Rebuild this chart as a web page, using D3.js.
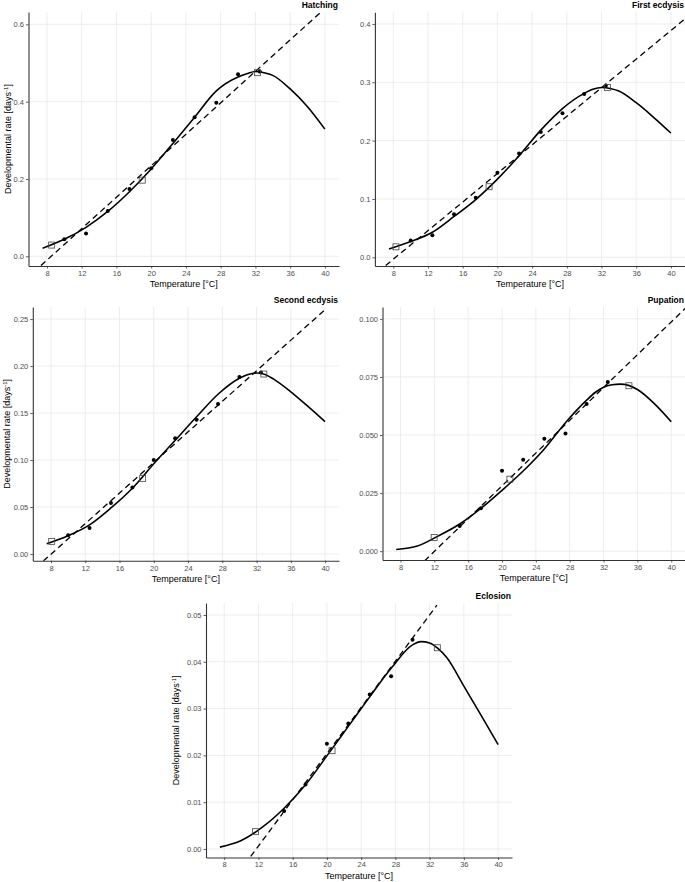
<!DOCTYPE html>
<html><head><meta charset="utf-8">
<script src="https://cdn.jsdelivr.net/npm/d3@7"></script>
<style>
body{margin:0;background:#fff}
svg{display:block}
text{font-family:"Liberation Sans",Arial,Helvetica,sans-serif}
</style>
</head><body>
<svg id="chart" width="685" height="882"></svg>
<script>
// ---------------- data ----------------
const stageNames = ["Hatching", "First ecdysis", "Second ecdysis", "Pupation", "Eclosion"];
const xTicks = [8, 12, 16, 20, 24, 28, 32, 36, 40];
const xTickLabels = ["8", "12", "16", "20", "24", "28", "32", "36", "40"];

// temperatures at which the fitted (solid) curve was read
const curveTemp = [7.5, 10, 12.5, 15, 17.5, 20, 22.5, 25, 27.5, 30, 31, 32, 33, 34, 36, 38, 40];
const hatchingCurve = [0.021, 0.044, 0.075, 0.116, 0.167, 0.226, 0.292, 0.360, 0.428, 0.464, 0.472, 0.478, 0.475, 0.468, 0.433, 0.387, 0.329];
const firstEcdysisCurve = [0.0143, 0.027, 0.043, 0.070, 0.099, 0.134, 0.174, 0.218, 0.255, 0.281, 0.288, 0.291, 0.2895, 0.285, 0.265, 0.240, 0.213];
const secondEcdysisCurve = [0.011, 0.0195, 0.031, 0.049, 0.070, 0.096, 0.121, 0.146, 0.170, 0.187, 0.191, 0.1926, 0.191, 0.186, 0.1725, 0.157, 0.1408];
const pupationCurve = [0.0007, 0.0022, 0.0066, 0.0117, 0.0184, 0.0262, 0.0345, 0.0440, 0.0553, 0.0650, 0.0683, 0.0706, 0.0716, 0.0719, 0.0696, 0.0635, 0.0557];
const eclosionCurve = [0.0004, 0.0018, 0.0047, 0.0087, 0.0137, 0.0199, 0.0262, 0.0325, 0.0386, 0.0436, 0.0443, 0.0440, 0.0428, 0.0409, 0.0348, 0.0286, 0.0223];

// observed rates (filled dots)
const obsTemp = [10, 12.5, 15, 17.5, 20, 22.5, 25, 27.5, 30, 32.5];
const hatchingObs = [0.044, 0.059, 0.117, 0.174, 0.228, 0.301, 0.360, 0.397, 0.471, 0.478];
const firstEcdysisObs = [0.0286, 0.038, 0.074, 0.102, 0.145, 0.178, 0.215, 0.247, 0.280, 0.294];
const secondEcdysisObs = [0.0200, 0.0277, 0.0544, 0.0708, 0.100, 0.1232, 0.1428, 0.1596, 0.1883, 0.193];
const pupationObsTemp = [15, 17.5, 20, 22.5, 25, 27.5, 30, 32.5];
const pupationObs = [0.0108, 0.0185, 0.0346, 0.0393, 0.0484, 0.0507, 0.0633, 0.0728];
const eclosionObsTemp = [15, 17.5, 20, 22.5, 25, 27.5, 30];
const eclosionObs = [0.0081, 0.0138, 0.0225, 0.0268, 0.0330, 0.0369, 0.0447];

// open squares
const hatchingSqTemp = [8.54, 18.97, 32.25];
const hatchingSq = [0.029, 0.197, 0.475];
const firstEcdysisSqTemp = [8.3, 19.04, 32.7];
const firstEcdysisSq = [0.018, 0.121, 0.291];
const secondEcdysisSqTemp = [8.08, 18.7, 32.85];
const secondEcdysisSq = [0.0135, 0.0805, 0.1915];
const pupationSqTemp = [11.98, 20.93, 35.0];
const pupationSq = [0.0059, 0.031, 0.0712];
const eclosionSqTemp = [11.65, 20.6, 32.9];
const eclosionSq = [0.0037, 0.021, 0.043];

// linear (dashed) model end points
const hatchingLineTemp = [7.31, 39.5];
const hatchingLine = [-0.024, 0.631];
const firstEcdysisLineTemp = [7.12, 41.65];
const firstEcdysisLine = [-0.014, 0.409];
const secondEcdysisLineTemp = [7.1, 40.16];
const secondEcdysisLine = [-0.0075, 0.2613];
const pupationLineTemp = [10.84, 41.65];
const pupationLine = [-0.0042, 0.1045];
const eclosionLineTemp = [11.1, 32.85];
const eclosionLine = [-0.0016, 0.0521];

// y ticks
const hatchingYTicks = [0, 0.2, 0.4, 0.6];
const hatchingYLabels = ["0.0", "0.2", "0.4", "0.6"];
const firstEcdysisYTicks = [0, 0.1, 0.2, 0.3, 0.4];
const firstEcdysisYLabels = ["0.0", "0.1", "0.2", "0.3", "0.4"];
const secondEcdysisYTicks = [0, 0.05, 0.10, 0.15, 0.20, 0.25];
const secondEcdysisYLabels = ["0.00", "0.05", "0.10", "0.15", "0.20", "0.25"];
const pupationYTicks = [0, 0.025, 0.05, 0.075, 0.1];
const pupationYLabels = ["0.000", "0.025", "0.050", "0.075", "0.100"];
const eclosionYTicks = [0, 0.01, 0.02, 0.03, 0.04, 0.05];
const eclosionYLabels = ["0.00", "0.01", "0.02", "0.03", "0.04", "0.05"];

// ---------------- layout ----------------
const xDomain = [5.875, 41.625];
const panels = [
  {name: stageNames[0], x0: 28.5, x1: 339, y0: 12, y1: 266, yDom: [-0.0251, 0.632], yTitle: 11,
   curve: hatchingCurve, obsT: obsTemp, obs: hatchingObs, sqT: hatchingSqTemp, sq: hatchingSq,
   lineT: hatchingLineTemp, line: hatchingLine, yTicks: hatchingYTicks, yLabels: hatchingYLabels},
  {name: stageNames[1], x0: 374.9, x1: 685, y0: 12.3, y1: 266, yDom: [-0.0149, 0.42], yTitle: null,
   curve: firstEcdysisCurve, obsT: obsTemp, obs: firstEcdysisObs, sqT: firstEcdysisSqTemp, sq: firstEcdysisSq,
   lineT: firstEcdysisLineTemp, line: firstEcdysisLine, yTicks: firstEcdysisYTicks, yLabels: firstEcdysisYLabels},
  {name: stageNames[2], x0: 32.8, x1: 339, y0: 307, y1: 560.7, yDom: [-0.0071, 0.2628], yTitle: 10,
   curve: secondEcdysisCurve, obsT: obsTemp, obs: secondEcdysisObs, sqT: secondEcdysisSqTemp, sq: secondEcdysisSq,
   lineT: secondEcdysisLineTemp, line: secondEcdysisLine, yTicks: secondEcdysisYTicks, yLabels: secondEcdysisYLabels},
  {name: stageNames[3], x0: 382.5, x1: 685, y0: 307, y1: 560, yDom: [-0.0038, 0.1051], yTitle: null,
   curve: pupationCurve, obsT: pupationObsTemp, obs: pupationObs, sqT: pupationSqTemp, sq: pupationSq,
   lineT: pupationLineTemp, line: pupationLine, yTicks: pupationYTicks, yLabels: pupationYLabels},
  {name: stageNames[4], x0: 206, x1: 512, y0: 603, y1: 857.5, yDom: [-0.00182, 0.05256], yTitle: 179,
   curve: eclosionCurve, obsT: eclosionObsTemp, obs: eclosionObs, sqT: eclosionSqTemp, sq: eclosionSq,
   lineT: eclosionLineTemp, line: eclosionLine, yTicks: eclosionYTicks, yLabels: eclosionYLabels}
];

const svg = d3.select("#chart");
svg.append("rect").attr("width", 685).attr("height", 882).attr("fill", "#fff");

panels.forEach((p, i) => {
  const g = svg.append("g");
  const x = d3.scaleLinear().domain(xDomain).range([p.x0, p.x1]);
  const y = d3.scaleLinear().domain(p.yDom).range([p.y1, p.y0]);

  // grid
  g.append("g").selectAll("line").data(xTicks).join("line")
    .attr("x1", d => x(d)).attr("x2", d => x(d)).attr("y1", p.y0).attr("y2", p.y1)
    .attr("stroke", "#ebebeb").attr("stroke-width", 0.9);
  g.append("g").selectAll("line").data(p.yTicks).join("line")
    .attr("y1", d => y(d)).attr("y2", d => y(d)).attr("x1", p.x0).attr("x2", p.x1)
    .attr("stroke", "#ebebeb").attr("stroke-width", 0.9);

  // clip
  const cid = "clip" + i;
  svg.append("clipPath").attr("id", cid).append("rect")
    .attr("x", p.x0).attr("y", p.y0).attr("width", p.x1 - p.x0).attr("height", p.y1 - p.y0);
  const plot = g.append("g").attr("clip-path", `url(#${cid})`);

  // dashed linear model
  const lineData = p.lineT.map((t, k) => [t, p.line[k]]);
  plot.append("path").datum(lineData)
    .attr("d", d3.line().x(d => x(d[0])).y(d => y(d[1])))
    .attr("fill", "none").attr("stroke", "#000").attr("stroke-width", 1.3)
    .attr("stroke-dasharray", "6,4");

  // fitted curve
  const curveData = curveTemp.map((t, k) => [t, p.curve[k]]);
  plot.append("path").datum(curveData)
    .attr("d", d3.line().x(d => x(d[0])).y(d => y(d[1])).curve(d3.curveMonotoneX))
    .attr("fill", "none").attr("stroke", "#000").attr("stroke-width", 1.6);

  // observed points
  plot.append("g").selectAll("circle").data(p.obsT.map((t, k) => [t, p.obs[k]])).join("circle")
    .attr("cx", d => x(d[0])).attr("cy", d => y(d[1])).attr("r", 2).attr("fill", "#000");

  // squares
  plot.append("g").selectAll("rect").data(p.sqT.map((t, k) => [t, p.sq[k]])).join("rect")
    .attr("x", d => x(d[0]) - 3).attr("y", d => y(d[1]) - 3).attr("width", 6).attr("height", 6)
    .attr("fill", "none").attr("stroke", "#444").attr("stroke-width", 0.8);

  // axes
  const xa = g.append("g").attr("transform", `translate(0,${p.y1})`)
    .call(d3.axisBottom(x).tickValues(xTicks).tickFormat((d, k) => xTickLabels[k]).tickSize(2.5).tickSizeOuter(0).tickPadding(2));
  const ya = g.append("g").attr("transform", `translate(${p.x0},0)`)
    .call(d3.axisLeft(y).tickValues(p.yTicks).tickFormat((d, k) => p.yLabels[k]).tickSize(2.5).tickSizeOuter(0).tickPadding(2));
  [xa, ya].forEach(a => {
    a.attr("font-family", null).attr("font-size", null);
    a.select(".domain").attr("stroke", "#333").attr("stroke-width", 1.1);
    a.selectAll(".tick line").attr("stroke", "#333").attr("stroke-width", 0.8);
    a.selectAll(".tick text").attr("fill", "#4d4d4d").style("font-size", "7.5px");
  });

  // x axis title
  g.append("text").attr("x", (p.x0 + p.x1) / 2).attr("y", p.y1 + 21)
    .attr("text-anchor", "middle").style("font-size", "9px").attr("fill", "#000")
    .text("Temperature [°C]");

  // y axis title
  if (p.yTitle !== null) {
    const yc = (p.y0 + p.y1) / 2;
    const t = g.append("text").attr("transform", `translate(${p.yTitle},${yc}) rotate(-90)`)
      .attr("text-anchor", "middle").style("font-size", "9px").attr("fill", "#000");
    t.append("tspan").text("Developmental rate [days");
    t.append("tspan").attr("dy", -3).style("font-size", "6px").text("-1");
    t.append("tspan").attr("dy", 3).text("]");
  }

  // panel title
  g.append("text").attr("x", p.x1 - 1).attr("y", p.y0 - 4.5)
    .attr("text-anchor", "end").style("font-size", "8.5px").style("font-weight", "bold")
    .attr("fill", "#000").text(p.name);
});
</script>
</body></html>
